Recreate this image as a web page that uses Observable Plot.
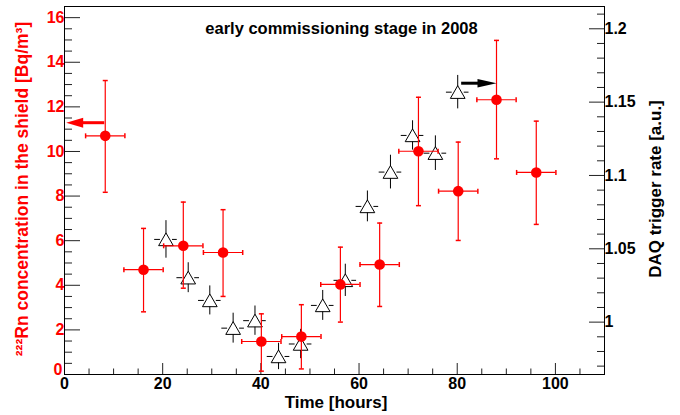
<!DOCTYPE html>
<html>
<head>
<meta charset="utf-8">
<script src="https://cdn.jsdelivr.net/npm/d3@7"></script>
<script src="https://cdn.jsdelivr.net/npm/@observablehq/plot@0.6"></script>
<style>
  html, body { margin: 0; padding: 0; background: #fff; }
  #chart svg { display: block; }
</style>
</head>
<body>
<div id="chart"></div>
<script>
// ---------- data ----------
// Red points: 222Rn concentration in the shield [Bq/m3] (left axis)
const rnHours    = [8.3, 16.1, 24.2, 32.3, 40.1, 48.25, 56.2, 64.2, 72.1, 80.2, 88.0, 96.1];
const rnHoursErr = [4, 4, 4, 4, 4, 4, 4, 4, 4, 4, 4, 4];
const rnValue    = [10.70, 4.70, 5.77, 5.47, 1.48, 1.70, 4.04, 4.93, 10.01, 8.22, 12.32, 9.06];
const rnLow      = [8.17, 2.81, 3.87, 3.50, 0.15, 0.25, 2.35, 3.05, 7.57, 6.01, 9.67, 6.73];
const rnHigh     = [13.18, 6.55, 7.73, 7.39, 2.72, 3.13, 5.71, 6.79, 12.43, 10.42, 14.98, 11.36];

// Open triangles: DAQ trigger rate [a.u.] (right axis)
const daqHours    = [20.67, 25.2, 29.6, 34.35, 38.8, 43.6, 48.1, 52.6, 57.2, 61.7, 66.4, 70.9, 75.55, 80.1];
const daqHoursErr = [2.3, 2.3, 2.3, 2.3, 2.3, 2.3, 2.3, 2.3, 2.3, 2.3, 2.3, 2.3, 2.3, 2.3];
const daqRate     = [1.0564, 1.0303, 1.0148, 0.9959, 1.0010, 0.9766, 0.9851, 1.0114, 1.0285, 1.0789, 1.1023, 1.1273, 1.1152, 1.1568];
const daqRateErr  = [0.0128, 0.0102, 0.0099, 0.0102, 0.0100, 0.0090, 0.0100, 0.0102, 0.0110, 0.0105, 0.0115, 0.0100, 0.0118, 0.0114];

// Annotation arrows (start hour, tip hour, value)
const rnArrowHours  = [8.1, 0.35];
const rnArrowValue  = [11.29];
const daqArrowHours = [80.8, 88.0];
const daqArrowRate  = [1.1629];

// Axes
const xDomain = [0, 110];
const leftDomain = [0, 16.5];
const rightDomain = [0.9643, 1.2152];
const xTicks = [0, 20, 40, 60, 80, 100];
const leftTicks = [0, 2, 4, 6, 8, 10, 12, 14, 16];
const rightTicks = [1, 1.05, 1.1, 1.15, 1.2];
const rightTickLabels = ["1", "1.05", "1.1", "1.15", "1.2"];

const titleText = "early commissioning stage in 2008";
const xTitle = "Time [hours]";
const leftTitle = "\u00B2\u00B2\u00B2Rn concentration in the shield [Bq/m\u00B3]";
const rightTitle = "DAQ trigger rate [a.u.]";

// ---------- build ----------
const FONT = "'Liberation Sans', Arial, Helvetica, sans-serif";
const RED = "#ff0000";
const toLeft = d3.scaleLinear(rightDomain, leftDomain);

const xMinor = d3.range(0, 111, 5).filter(d => d % 20 !== 0);
const leftMinor = d3.range(0, 34).map(d => d / 2).filter(d => d % 2 !== 0 && d <= 16.5);
const rightMinor = d3.range(97, 122).map(d => d / 100).filter(d => Math.round(d * 100) % 5 !== 0);
const rightTicksLeft = rightTicks.map(toLeft);

const rn = rnHours.map((h, i) => ({h, dh: rnHoursErr[i], v: rnValue[i], lo: rnLow[i], hi: rnHigh[i]}));
const daq = daqHours.map((h, i) => ({
  h, dh: daqHoursErr[i],
  v: toLeft(daqRate[i]),
  lo: toLeft(daqRate[i] - daqRateErr[i]),
  hi: toLeft(daqRate[i] + daqRateErr[i])
}));
const rnArrow = [{h1: rnArrowHours[0], h2: rnArrowHours[1], v: rnArrowValue[0]}];
const daqArrow = [{h1: daqArrowHours[0], h2: daqArrowHours[1], v: toLeft(daqArrowRate[0])}];

const hCap = {draw(c) { c.moveTo(-2.5, 0); c.lineTo(2.5, 0); }};
const vCap = {draw(c) { c.moveTo(0, -2.5); c.lineTo(0, 2.5); }};
const headLeft = {draw(c) { c.moveTo(0, 0); c.lineTo(17, -5); c.lineTo(17, 5); c.closePath(); }};
const headRight = {draw(c) { c.moveTo(0, 0); c.lineTo(-19, -4.2); c.lineTo(-19, 4.2); c.closePath(); }};

const chart = Plot.plot({
  width: 680,
  height: 415,
  marginLeft: 64,
  marginRight: 76,
  marginTop: 6,
  marginBottom: 41,
  x: {domain: xDomain},
  y: {domain: leftDomain},
  style: {fontFamily: FONT, fontSize: "16px", fontWeight: "bold", background: "white", color: "black", overflow: "visible"},
  marks: [
    // axes: ticks inward
    Plot.axisX(xTicks, {anchor: "bottom", tickSize: -11, fill: "none", stroke: "#222", label: null}),
    Plot.axisX(xMinor, {anchor: "bottom", tickSize: -5.5, fill: "none", stroke: "#222", label: null}),
    Plot.axisX(xTicks, {anchor: "bottom", tickSize: 0, tickPadding: 3, stroke: "none", fill: "black", fontSize: 16, fontWeight: "bold", label: null}),

    Plot.axisY(leftTicks, {anchor: "left", tickSize: -16, fill: "none", stroke: "#222", label: null}),
    Plot.axisY(leftMinor, {anchor: "left", tickSize: -8, fill: "none", stroke: "#222", label: null}),
    Plot.axisY(leftTicks.filter(d => d > 0), {anchor: "left", tickSize: 0, tickPadding: 0, stroke: "none", fill: RED, fontSize: 16, fontWeight: "bold", label: null}),
    Plot.axisY(leftTicks.filter(d => d === 0), {anchor: "left", tickSize: 0, tickPadding: 0, dy: -5, dx: -2, stroke: "none", fill: RED, fontSize: 16, fontWeight: "bold", label: null}),

    Plot.axisY(rightTicksLeft, {anchor: "right", tickSize: -16, fill: "none", stroke: "#222", label: null}),
    Plot.axisY(rightMinor.map(toLeft), {anchor: "right", tickSize: -8, fill: "none", stroke: "#222", label: null}),
    Plot.axisY(rightTicksLeft, {anchor: "right", tickSize: 0, tickPadding: 0, stroke: "none", fill: "black", fontSize: 16, fontWeight: "bold", label: null,
      tickFormat: d => rightTickLabels[rightTicksLeft.indexOf(d)]}),

    Plot.frame({stroke: "black", strokeWidth: 1}),

    // DAQ trigger rate: error bars, mask, open triangles
    Plot.ruleY(daq, {y: "v", x1: d => d.h - d.dh, x2: d => d.h + d.dh, stroke: "black", strokeWidth: 1}),
    Plot.ruleX(daq, {x: "h", y1: "lo", y2: "hi", stroke: "black", strokeWidth: 1}),
    Plot.dot(daq, {x: "h", y: "v", symbol: "square", r: 6.8, fill: "white", stroke: "none"}),
    Plot.dot(daq, {x: "h", y: "v", symbol: "triangle", r: 5.46, dy: 2, fill: "none", stroke: "black", strokeWidth: 1}),

    // Rn concentration: error bars with caps, filled circles
    Plot.ruleY(rn, {y: "v", x1: d => d.h - d.dh, x2: d => d.h + d.dh, stroke: RED, strokeWidth: 1.2}),
    Plot.ruleX(rn, {x: "h", y1: "lo", y2: "hi", stroke: RED, strokeWidth: 1.2}),
    Plot.dot(rn, {x: "h", y: "lo", symbol: hCap, fill: "none", stroke: RED, strokeWidth: 1.5}),
    Plot.dot(rn, {x: "h", y: "hi", symbol: hCap, fill: "none", stroke: RED, strokeWidth: 1.5}),
    Plot.dot(rn, {x: d => d.h - d.dh, y: "v", symbol: vCap, fill: "none", stroke: RED, strokeWidth: 1.5}),
    Plot.dot(rn, {x: d => d.h + d.dh, y: "v", symbol: vCap, fill: "none", stroke: RED, strokeWidth: 1.5}),
    Plot.dot(rn, {x: "h", y: "v", r: 5.3, fill: RED, stroke: "none"}),

    // arrows
    Plot.arrow(rnArrow, {x1: "h1", y1: "v", x2: "h2", y2: "v", stroke: RED, strokeWidth: 3, headLength: 0, insetEnd: 14, strokeLinecap: "butt"}),
    Plot.dot(rnArrow, {x: "h2", y: "v", symbol: headLeft, fill: RED, stroke: "none"}),
    Plot.arrow(daqArrow, {x1: "h1", y1: "v", x2: "h2", y2: "v", stroke: "black", strokeWidth: 3, headLength: 0, insetEnd: 16, strokeLinecap: "butt"}),
    Plot.dot(daqArrow, {x: "h2", y: "v", symbol: headRight, fill: "black", stroke: "none"}),

    // texts
    Plot.text([titleText], {text: d => d, frameAnchor: "top", textAnchor: "middle", lineAnchor: "middle", dy: 22, dx: 7, fontSize: 16.5, fontWeight: "bold", fill: "black"}),
    Plot.text([xTitle], {text: d => d, frameAnchor: "bottom", textAnchor: "middle", lineAnchor: "middle", dy: 28, dx: 1.5, fontSize: 17, fontWeight: "bold", fill: "black"}),
    Plot.text([leftTitle], {text: d => d, frameAnchor: "left", textAnchor: "middle", lineAnchor: "middle", rotate: -90, dx: -42, dy: -1.5, fontSize: 17.5, fontWeight: "bold", fill: RED}),
    Plot.text([rightTitle], {text: d => d, frameAnchor: "right", textAnchor: "middle", lineAnchor: "middle", rotate: -90, dx: 51.5, dy: -1.5, fontSize: 17, fontWeight: "bold", fill: "black"})
  ]
});

document.getElementById("chart").appendChild(chart);
</script>
</body>
</html>
